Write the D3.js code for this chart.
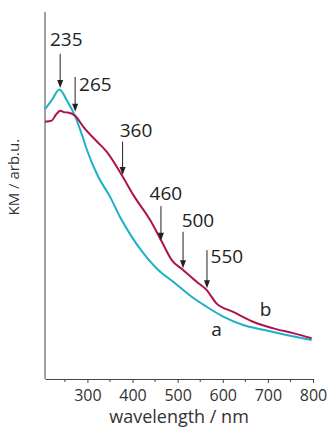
<!DOCTYPE html>
<html>
<head>
<meta charset="utf-8">
<script src="https://cdn.jsdelivr.net/npm/d3@7"></script>
<style>
    body { margin: 0; background: #fff; }
    svg { display: block; }
</style>
</head>
<body>
<svg class="kmSpectra"></svg>
<script>
// wavelength (nm) and KM (arb.u.)
const wavelengthA = [206, 221, 238, 254, 273, 288, 299, 324, 350, 372, 398, 424, 457, 490, 531, 564, 601, 645, 689, 741, 797];
const kmA = [73.5, 76.0, 78.9, 76.0, 71.5, 66.5, 62.4, 55.1, 49.7, 44.2, 38.8, 34.3, 29.7, 26.5, 22.4, 19.7, 17.0, 14.7, 13.4, 12.0, 10.6];

const wavelengthB = [206, 221, 230, 240, 248, 257, 273, 291, 321, 343, 376, 402, 439, 465, 487, 512, 542, 564, 586, 623, 667, 712, 756, 797];
const kmB = [70.1, 70.4, 72.0, 73.1, 72.7, 72.6, 71.7, 68.7, 64.7, 61.9, 55.6, 50.1, 43.3, 37.4, 32.4, 29.7, 26.5, 24.3, 20.6, 18.3, 15.6, 13.8, 12.5, 11.1];

const xTicks = [300, 400, 500, 600, 700, 800];
const xMinorTicks = [250, 350, 450, 550, 650, 750];

// arrow annotations: where the arrow sits and where its label sits
const arrowLabels = ["235", "265", "360", "460", "500", "550"];
const arrowX = [239.6, 272.8, 378, 463, 512, 565];
const arrowTop = [88.6, 82.3, 64.7, 47.1, 40.1, 35.1];
const arrowTip = [79.3, 72.8, 55.6, 37.7, 30.2, 24.7];
const labelX = [253, 281.6, 407.7, 474, 545, 573];
const labelY = [90.7, 78.6, 65.9, 48.8, 41.4, 31.6];
const labelAnchor = ["middle", "start", "middle", "middle", "middle", "start"];

const curveNames = ["a", "b"];
const curveNameX = [586, 695];
const curveNameY = [11.6, 17.1];

drawChart_kmSpectra();

function drawChart_kmSpectra() {
    const W = 329, H = 433;
    const margin = {top: 12, right: 16, bottom: 54, left: 45},
    width = W - margin.left - margin.right,
    height = H - margin.top - margin.bottom;

    const svg = d3.select(".kmSpectra")
        .attr("width", W)
        .attr("height", H)
        .append("g")
        .attr("transform", `translate(${margin.left},${margin.top})`);

    const x = d3.scaleLinear().domain([206, 800]).range([0, width]);
    const y = d3.scaleLinear().domain([0, 100]).range([height, 0]);

    const font = "'Open Sans', 'Noto Sans', sans-serif";

    // X axis
    const xAxis = svg.append("g")
        .attr("transform", "translate(0," + height + ")")
        .call(d3.axisBottom(x).tickValues(xTicks).tickSize(4).tickSizeOuter(0).tickFormat(d3.format("d")));
    xAxis.select(".domain").attr("stroke", "#444");
    xAxis.selectAll(".tick line").attr("stroke", "#444");
    xAxis.selectAll(".tick text")
        .attr("dy", "0")
        .attr("y", 22)
        .style("font-size", "16px")
        .style("font-family", font)
        .style("fill", "#333");

    svg.append("g")
        .attr("transform", "translate(0," + height + ")")
        .selectAll("line")
        .data(xMinorTicks)
        .enter()
        .append("line")
            .attr("x1", d => x(d))
            .attr("x2", d => x(d))
            .attr("y1", 0)
            .attr("y2", 3)
            .attr("stroke", "#444");

    // Y axis, no ticks
    svg.append("line")
        .attr("x1", 0).attr("x2", 0)
        .attr("y1", 0).attr("y2", height)
        .attr("stroke", "#444");

    svg.append("text")
        .attr("x", width / 2)
        .attr("y", height + 44)
        .attr("text-anchor", "middle")
        .style("font-size", "18px")
        .style("font-family", font)
        .style("fill", "#333")
        .text("wavelength / nm");

    svg.append("text")
        .attr("transform", `translate(${-26},${y(55)}) rotate(-90)`)
        .attr("text-anchor", "middle")
        .style("font-size", "15px")
        .style("font-family", font)
        .style("fill", "#333")
        .text("KM / arb.u.");

    // Curves
    const line = d3.line()
        .x(d => x(d[0]))
        .y(d => y(d[1]))
        .curve(d3.curveMonotoneX);

    svg.append("path")
        .datum(d3.zip(wavelengthA, kmA))
        .attr("fill", "none")
        .attr("stroke", "#1bb1c7")
        .attr("stroke-width", 2)
        .attr("d", line);

    svg.append("path")
        .datum(d3.zip(wavelengthB, kmB))
        .attr("fill", "none")
        .attr("stroke", "#b0124e")
        .attr("stroke-width", 2)
        .attr("d", line);

    // curve names
    svg.selectAll(".curveName")
        .data(curveNames)
        .enter()
        .append("text")
            .attr("class", "curveName")
            .attr("x", (d, i) => x(curveNameX[i]))
            .attr("y", (d, i) => y(curveNameY[i]))
            .attr("text-anchor", "middle")
            .style("font-size", "19px")
            .style("font-family", font)
            .style("fill", "#222")
            .text(d => d);

    // Arrows
    const arrows = svg.append("g").attr("class", "arrows");
    arrowLabels.forEach(function(lab, i) {
        const ax = x(arrowX[i]), y0 = y(arrowTop[i]), y1 = y(arrowTip[i]);
        arrows.append("line")
            .attr("x1", ax).attr("x2", ax)
            .attr("y1", y0).attr("y2", y1 - 6)
            .attr("stroke", "#222")
            .attr("stroke-width", 1);
        arrows.append("path")
            .attr("d", `M${ax - 3},${y1 - 8} L${ax + 3},${y1 - 8} L${ax},${y1} Z`)
            .attr("fill", "#222");
        arrows.append("text")
            .attr("x", x(labelX[i]))
            .attr("y", y(labelY[i]))
            .attr("text-anchor", labelAnchor[i])
            .style("font-size", "19px")
            .style("font-family", font)
            .style("fill", "#222")
            .text(lab);
    });
}
</script>
</body>
</html>
